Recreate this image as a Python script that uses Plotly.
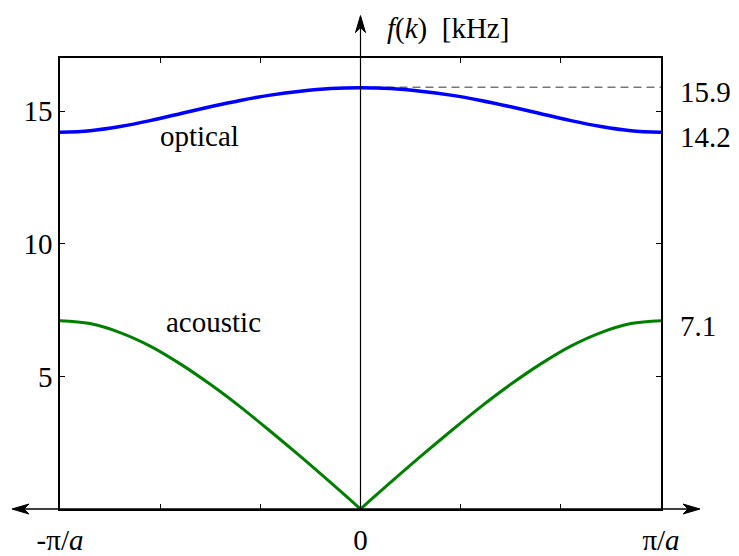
import plotly.graph_objects as go

# wave number k in units of pi/a
k = [-1.0, -0.9, -0.8, -0.7, -0.6, -0.5, -0.4, -0.3, -0.2, -0.1, 0.0,
     0.1, 0.2, 0.3, 0.4, 0.5, 0.6, 0.7, 0.8, 0.9, 1.0]
# frequencies in kHz
optical = [14.2, 14.26, 14.42, 14.64, 14.9, 15.16, 15.4, 15.6, 15.75, 15.85, 15.88,
           15.85, 15.75, 15.6, 15.4, 15.16, 14.9, 14.64, 14.42, 14.26, 14.2]
acoustic = [7.1, 6.99, 6.65, 6.14, 5.47, 4.7, 3.85, 2.93, 1.98, 1.0, 0.0,
            1.0, 1.98, 2.93, 3.85, 4.7, 5.47, 6.14, 6.65, 6.99, 7.1]
max_label = 15.9
edge_labels = [15.9, 14.2, 7.1]
xtick_vals = [-1, -2/3, -1/3, 0, 1/3, 2/3, 1]
xtick_text = ['-π/<i>a</i>', '', '', '0', '', '', 'π/<i>a</i>']
ytick_vals = [5, 10, 15]

FONT = 'Liberation Serif'
FS = 29

fig = go.Figure()
# dashed reference line at maximum
fig.add_trace(go.Scatter(x=[0, 1], y=[max_label, max_label], mode='lines',
                         line=dict(color='#333333', width=1, dash='8px,5px'),
                         hoverinfo='skip', showlegend=False))
fig.add_trace(go.Scatter(x=k, y=optical, mode='lines',
                         line=dict(color='#0000ff', width=3.5, shape='spline'),
                         showlegend=False, cliponaxis=False))
mid = k.index(0.0)
fig.add_trace(go.Scatter(x=k[:mid + 1], y=acoustic[:mid + 1], mode='lines',
                         line=dict(color='#008000', width=3, shape='spline'),
                         showlegend=False, cliponaxis=False))
fig.add_trace(go.Scatter(x=k[mid:], y=acoustic[mid:], mode='lines',
                         line=dict(color='#008000', width=3, shape='spline'),
                         showlegend=False, cliponaxis=False))

shapes = [
    # horizontal k axis
    dict(type='line', xref='paper', yref='paper', x0=-0.078, x1=1.06, y0=0, y1=0,
         line=dict(color='black', width=1.5)),
    # vertical f axis
    dict(type='line', xref='paper', yref='paper', x0=0.5, x1=0.5, y0=0, y1=1.085,
         line=dict(color='black', width=1.2)),
    # arrowheads
    dict(type='path', xref='paper', yref='paper', xsizemode='pixel', ysizemode='pixel',
         xanchor=1.0649, yanchor=0, path='M0,0 L-17,5 L-12,0 L-17,-5 Z',
         fillcolor='black', line=dict(color='black', width=1)),
    dict(type='path', xref='paper', yref='paper', xsizemode='pixel', ysizemode='pixel',
         xanchor=-0.0799, yanchor=0, path='M0,0 L17,5 L12,0 L17,-5 Z',
         fillcolor='black', line=dict(color='black', width=1)),
    dict(type='path', xref='paper', yref='paper', xsizemode='pixel', ysizemode='pixel',
         xanchor=0.5, yanchor=1.094, path='M0,0 L-5,-17 L0,-12 L5,-17 Z',
         fillcolor='black', line=dict(color='black', width=1)),
]

annotations = [
    dict(text='<i>f</i>(<i>k</i>)  [kHz]', xref='paper', yref='paper', x=0.54, y=1.066,
         xanchor='left', yanchor='middle', showarrow=False),
    dict(text='optical', xref='x', yref='y', x=-0.536, y=14.06, showarrow=False),
    dict(text='acoustic', xref='x', yref='y', x=-0.489, y=7.05, showarrow=False),
]
for v in edge_labels:
    annotations.append(dict(text=f'{v}', xref='paper', yref='y', x=1, y=v, xanchor='left',
                            xshift=17, yshift=-5, showarrow=False))

# the page body has an 8px default margin, so the figure is 8px smaller
fig.update_layout(
    width=731, height=548, autosize=False,
    margin=dict(l=52, r=78, t=50, b=47, autoexpand=False),
    paper_bgcolor='white', plot_bgcolor='white',
    font=dict(family=FONT, size=FS, color='black'),
    shapes=shapes, annotations=annotations,
    xaxis=dict(range=[-1, 1], showgrid=False, zeroline=False, showline=True, mirror='ticks',
               linecolor='black', linewidth=1.5, ticks='inside', ticklen=5, tickwidth=1,
               tickcolor='black', tickvals=xtick_vals, ticktext=xtick_text,
               ticklabelstandoff=4, automargin=False),
    yaxis=dict(range=[0, 17], showgrid=False, zeroline=False, showline=True, mirror='ticks',
               linecolor='black', linewidth=1.5, ticks='inside', ticklen=5, tickwidth=1,
               tickcolor='black', tickvals=ytick_vals, ticklabelstandoff=0, automargin=False),
)

fig.write_html('out.html')
